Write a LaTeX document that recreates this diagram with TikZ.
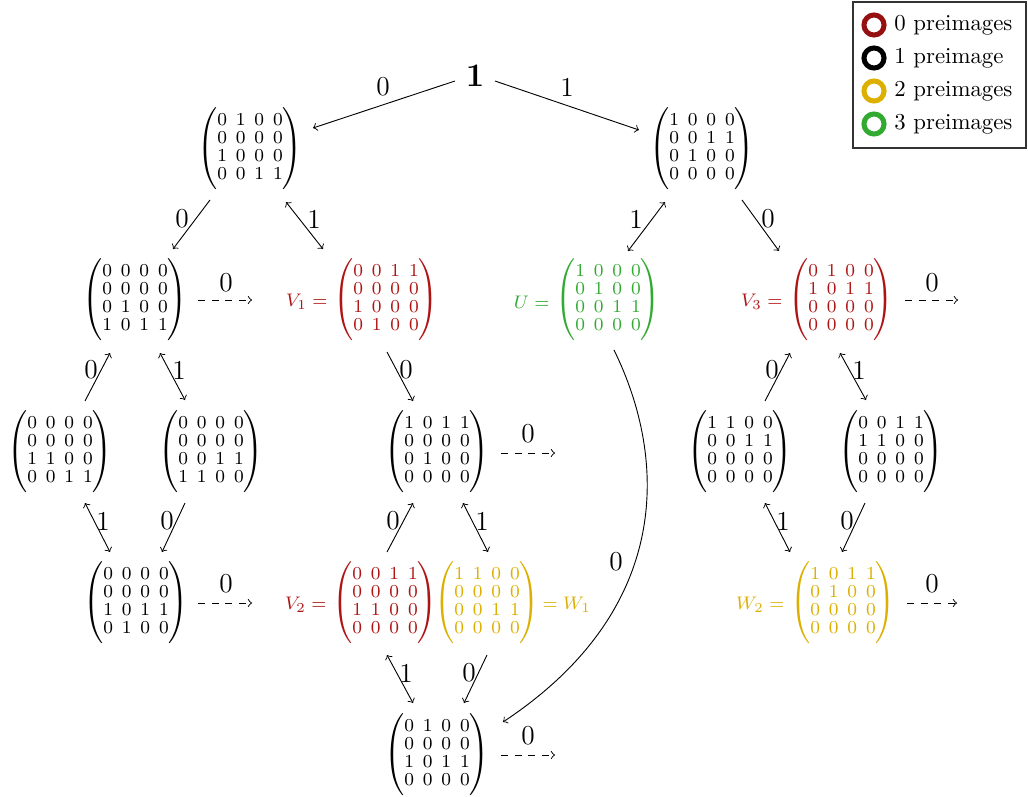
\documentclass[tikz,border=0pt]{standalone}
\usetikzlibrary{calc}
\definecolor{myred}{RGB}{175,20,20}
\definecolor{mygreen}{RGB}{50,170,50}
\definecolor{myyellow}{RGB}{220,175,0}
\newcommand{\mtx}[4]{\left(\vcenter{\hbox{\rule{0pt}{35pt}}}\vcenter{\hbox{\fontsize{7.6}{7.9}\selectfont$\arraycolsep=1.95pt\begin{array}{@{}cccc@{}}#1\\#2\\#3\\#4\end{array}$}}\right)}
\begin{document}
\begin{tikzpicture}[x=0.4386pt, y=-0.4386pt,
  mat/.style={inner sep=0pt, font=\normalsize},
  lbl/.style={inner sep=0pt, font=\large},
  eqlbl/.style={inner sep=0pt, font=\footnotesize},
  link/.style={->},
  twoway/.style={<->},
  dashlink/.style={->, dashed},
  legtxt/.style={inner sep=0pt, anchor=west, font=\normalsize},
  ring/.style={line width=2.2pt}]
\useasboundingbox (0,0) rectangle (1028,796);

% root
\node[inner sep=0pt, font=\Large] (R) at (475,76) {$\mathbf{1}$};

% level 1
\node[mat] (A) at (250,149) {$\mtx{0&1&0&0}{0&0&0&0}{1&0&0&0}{0&0&1&1}$};
\node[mat] (B) at (702,149) {$\mtx{1&0&0&0}{0&0&1&1}{0&1&0&0}{0&0&0&0}$};

% level 2
\node[mat] (C) at (135,300) {$\mtx{0&0&0&0}{0&0&0&0}{0&1&0&0}{1&0&1&1}$};
\node[mat, text=myred] (V1) at (386,300) {$\mtx{0&0&1&1}{0&0&0&0}{1&0&0&0}{0&1&0&0}$};
\node[eqlbl, text=myred, anchor=east] (V1l) at ($(V1.west)+(-5,2)$) {$V_1 =$};
\node[mat, text=mygreen] (U) at (608,300) {$\mtx{1&0&0&0}{0&1&0&0}{0&0&1&1}{0&0&0&0}$};
\node[eqlbl, text=mygreen, anchor=east] (Ul) at ($(U.west)+(-5,2)$) {$U =$};
\node[mat, text=myred] (V3) at (841,300) {$\mtx{0&1&0&0}{1&0&1&1}{0&0&0&0}{0&0&0&0}$};
\node[eqlbl, text=myred, anchor=east] (V3l) at ($(V3.west)+(-5,2)$) {$V_3 =$};

% level 3
\node[mat] (D) at (60,452) {$\mtx{0&0&0&0}{0&0&0&0}{1&1&0&0}{0&0&1&1}$};
\node[mat] (E) at (211,452) {$\mtx{0&0&0&0}{0&0&0&0}{0&0&1&1}{1&1&0&0}$};
\node[mat] (F) at (437,452) {$\mtx{1&0&1&1}{0&0&0&0}{0&1&0&0}{0&0&0&0}$};
\node[mat] (G) at (740,452) {$\mtx{1&1&0&0}{0&0&1&1}{0&0&0&0}{0&0&0&0}$};
\node[mat] (H) at (891,452) {$\mtx{0&0&1&1}{1&1&0&0}{0&0&0&0}{0&0&0&0}$};

% level 4
\node[mat] (I) at (136,603) {$\mtx{0&0&0&0}{0&0&0&0}{1&0&1&1}{0&1&0&0}$};
\node[mat, text=myred] (V2) at (385,603) {$\mtx{0&0&1&1}{0&0&0&0}{1&1&0&0}{0&0&0&0}$};
\node[eqlbl, text=myred, anchor=east] (V2l) at ($(V2.west)+(-5,2)$) {$V_2 =$};
\node[mat, text=myyellow] (W1) at (487,603) {$\mtx{1&1&0&0}{0&0&0&0}{0&0&1&1}{0&0&0&0}$};
\node[eqlbl, text=myyellow, anchor=west] (W1l) at ($(W1.east)+(2,2)$) {$= W_1$};
\node[mat, text=myyellow] (W2) at (843,603) {$\mtx{1&0&1&1}{0&1&0&0}{0&0&0&0}{0&0&0&0}$};
\node[eqlbl, text=myyellow, anchor=east] (W2l) at ($(W2.west)+(-5,2)$) {$W_2 =$};

% level 5
\node[mat] (J) at (437,755) {$\mtx{0&1&0&0}{0&0&0&0}{1&0&1&1}{0&0&0&0}$};

% connectors
\draw[link] ($(R)+(-20,5)$) -- ($(A)+(63,-21)$);
\draw[link] ($(R)+(20,5)$) -- ($(B)+(-63,-19)$);
\draw[link] ($(A)+(-40,51)$) -- ($(C)+(38,-51)$);
\draw[twoway] ($(A)+(36,53)$) -- ($(V1)+(-63,-51)$);
\draw[twoway] ($(B)+(-37,53)$) -- ($(U)+(20,-49)$);
\draw[link] ($(B)+(40,51)$) -- ($(V3)+(-62,-49)$);
\draw[link] ($(D)+(25,-51)$) -- ($(C)+(-25,53)$);
\draw[twoway] ($(C)+(25,53)$) -- ($(E)+(-26,-52)$);
\draw[link] ($(V1)+(1,52)$) -- ($(F)+(-24,-51)$);
\draw[link] ($(G)+(25,-51)$) -- ($(V3)+(-51,53)$);
\draw[twoway] ($(V3)+(-1,53)$) -- ($(H)+(-25,-52)$);
\draw[twoway] ($(D)+(25,51)$) -- ($(I)+(-26,-51)$);
\draw[link] ($(E)+(-26,51)$) -- ($(I)+(26,-51)$);
\draw[link] ($(V2)+(2,-51)$) -- ($(F)+(-24,51)$);
\draw[twoway] ($(F)+(26,51)$) -- ($(W1)+(1,-51)$);
\draw[twoway] ($(G)+(25,51)$) -- ($(W2)+(-53,-51)$);
\draw[link] ($(H)+(-26,51)$) -- ($(W2)+(-1,-51)$);
\draw[twoway] ($(V2)+(2,52)$) -- ($(J)+(-24,-52)$);
\draw[link] ($(W1)+(0,52)$) -- ($(J)+(27,-52)$);
\draw[link] ($(U)+(6,50)$) .. controls (668,460) and (672,610) .. ($(J)+(66,-33)$);

% dashed outgoing arrows
\coordinate (cC) at (252,300);
\coordinate (cV3) at (958,300);
\coordinate (cF) at (555,453);
\coordinate (cI) at (252,603);
\coordinate (cW2) at (957,603);
\coordinate (cJ) at (555,755);
\draw[dashlink] ($(C)+(63,0)$) -- (cC);
\draw[dashlink] ($(V3)+(64,0)$) -- (cV3);
\draw[dashlink] ($(F)+(64,1)$) -- (cF);
\draw[dashlink] ($(I)+(62,0)$) -- (cI);
\draw[dashlink] ($(W2)+(64,0)$) -- (cW2);
\draw[dashlink] ($(J)+(64,0)$) -- (cJ);

% edge labels
\node[lbl] (l1) at (383,87) {0};
\node[lbl] (l2) at (567,87) {1};
\node[lbl] (l3) at (182,219) {0};
\node[lbl] (l4) at (314,219) {1};
\node[lbl] (l5) at (636,219) {1};
\node[lbl] (l6) at (768,219) {0};
\node[lbl] (l7) at (91,370) {0};
\node[lbl] (l8) at (179,370) {1};
\node[lbl] (l9) at (406,370) {0};
\node[lbl] (l10) at (772,370) {0};
\node[lbl] (l11) at (859,370) {1};
\node[lbl] (l12) at (103,521) {1};
\node[lbl] (l13) at (167,521) {0};
\node[lbl] (l14) at (393,521) {0};
\node[lbl] (l15) at (482,521) {1};
\node[lbl] (l16) at (783,521) {1};
\node[lbl] (l17) at (847,521) {0};
\node[lbl] (l18) at (406,673) {1};
\node[lbl] (l19) at (469,673) {0};
\node[lbl] (l20) at (616,562) {0};
\node[lbl] (d1) at (226,283) {0};
\node[lbl] (d2) at (932,283) {0};
\node[lbl] (d3) at (528,434) {0};
\node[lbl] (d4) at (226,584) {0};
\node[lbl] (d5) at (932,584) {0};
\node[lbl] (d6) at (528,736) {0};

% legend
\draw[black!80, line width=0.5pt] (853,2) rectangle (1026,148);
\draw[ring, myred!85!black] (874,25) circle (4.4pt);
\draw[ring, black] (874,58) circle (4.4pt);
\draw[ring, myyellow] (874,91) circle (4.4pt);
\draw[ring, mygreen] (874,124) circle (4.4pt);
\node[legtxt] (lg0) at (894,25) {0 preimages};
\node[legtxt] (lg1) at (894,58) {1 preimage};
\node[legtxt] (lg2) at (894,91) {2 preimages};
\node[legtxt] (lg3) at (894,124) {3 preimages};
\end{tikzpicture}
\end{document}
